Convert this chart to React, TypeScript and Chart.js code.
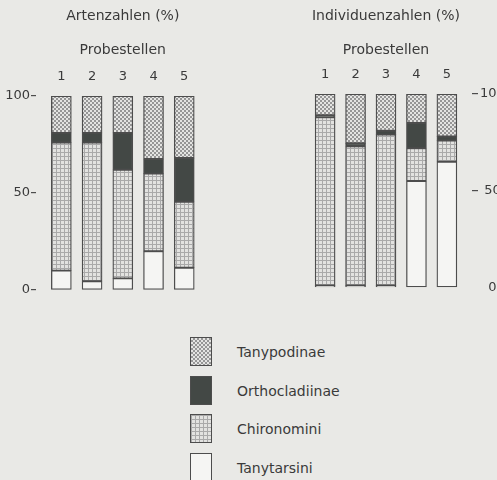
import React, { useEffect, useMemo, useRef } from "react";
import { Chart, registerables } from "chart.js";

Chart.register(...registerables);

// Probestellen (sampling sites)
const sites = [1, 2, 3, 4, 5];
const yTicks = [0, 50, 100];

// Artenzahlen (%) – share of species per subfamily/tribe
const artTanytarsini = [10, 4.5, 6, 20, 11.5];
const artChironomini = [66, 71.5, 56, 40, 34];
const artOrthocladiinae = [5, 5, 19, 7.5, 22.5];
const artTanypodinae = [19, 19, 19, 32.5, 32];

// Individuenzahlen (%) – share of individuals per subfamily/tribe
const indTanytarsini = [1, 1, 1, 55, 65];
const indChironomini = [87, 72, 78, 17, 11];
const indOrthocladiinae = [1, 1.5, 2, 13, 2];
const indTanypodinae = [11, 25.5, 19, 15, 22];

const FONT = '"DejaVu Sans", sans-serif';
const INK = "#3a3a3a";
const EDGE = "#4d4d4d";
const PAGE = "#e9e9e6";

type FillKind = "dots" | "grid" | "dark" | "white";

function makeTile(kind: FillKind): HTMLCanvasElement {
  const c = document.createElement("canvas");
  c.width = 4;
  c.height = 4;
  const g = c.getContext("2d")!;
  if (kind === "dots") {
    g.fillStyle = "#969696";
    g.fillRect(0, 0, 4, 4);
    g.fillStyle = "#e4e4e2";
    g.fillRect(0, 0, 2, 2);
    g.fillRect(2, 2, 2, 2);
  } else if (kind === "grid") {
    g.fillStyle = "#e2e2e0";
    g.fillRect(0, 0, 4, 4);
    g.fillStyle = "#a9a9a9";
    g.fillRect(0, 0, 4, 1);
    g.fillRect(0, 0, 1, 4);
  } else if (kind === "dark") {
    g.fillStyle = "#434845";
    g.fillRect(0, 0, 4, 4);
  } else {
    g.fillStyle = "#f5f5f3";
    g.fillRect(0, 0, 4, 4);
  }
  return c;
}

const legendItems: { label: string; kind: FillKind }[] = [
  { label: "Tanypodinae", kind: "dots" },
  { label: "Orthocladiinae", kind: "dark" },
  { label: "Chironomini", kind: "grid" },
  { label: "Tanytarsini", kind: "white" },
];

interface PanelSpec {
  title: string;
  tanytarsini: number[];
  chironomini: number[];
  orthocladiinae: number[];
  tanypodinae: number[];
  yPosition: "left" | "right";
  padLeft: number;
  padRight: number;
  padBottom: number;
  axisHeight: number;
  axisWidth: number;
}

function buildChart(canvas: HTMLCanvasElement, spec: PanelSpec) {
  const ctx = canvas.getContext("2d")!;
  const pat = (k: FillKind) => ctx.createPattern(makeTile(k), "repeat")!;
  const series = [
    { label: "Tanytarsini", values: spec.tanytarsini, fill: pat("white") },
    { label: "Chironomini", values: spec.chironomini, fill: pat("grid") },
    { label: "Orthocladiinae", values: spec.orthocladiinae, fill: pat("dark") },
    { label: "Tanypodinae", values: spec.tanypodinae, fill: pat("dots") },
  ];
  const isLeft = spec.yPosition === "left";
  return new Chart(canvas, {
    type: "bar",
    data: {
      datasets: series.map((s) => ({
        label: s.label,
        data: sites.map((x, i) => ({ x, y: s.values[i] })),
        backgroundColor: s.fill as any,
        borderColor: EDGE,
        borderWidth: 1.3,
        borderSkipped: false,
        barThickness: 20,
      })),
    },
    options: {
      responsive: false,
      animation: false,
      devicePixelRatio: 1,
      layout: {
        padding: { left: spec.padLeft, right: spec.padRight, top: 0, bottom: spec.padBottom },
      },
      plugins: {
        legend: { display: false },
        tooltip: { enabled: false },
        title: {
          display: true,
          text: spec.title,
          fullSize: false,
          color: INK,
          font: { family: FONT, size: 14, weight: "normal" },
          padding: { top: 8, bottom: 0 },
        },
      },
      scales: {
        x: {
          type: "linear",
          position: "top",
          stacked: true,
          min: 0.74,
          max: 5.26,
          afterBuildTicks: (s: any) => {
            s.ticks = sites.map((value) => ({ value }));
          },
          grid: { display: false, drawTicks: false },
          border: { display: false },
          ticks: {
            autoSkip: false,
            maxRotation: 0,
            padding: 12,
            color: INK,
            font: { family: FONT, size: 13 },
          },
          title: {
            display: true,
            text: "Probestellen",
            color: INK,
            font: { family: FONT, size: 14 },
            padding: { top: 17.5, bottom: 0 },
          },
          afterFit: (s: any) => {
            s.height = spec.axisHeight;
          },
        },
        y: {
          position: spec.yPosition,
          stacked: true,
          min: 0,
          max: 100,
          afterBuildTicks: (s: any) => {
            s.ticks = yTicks.map((value) => ({ value }));
          },
          grid: {
            drawOnChartArea: false,
            drawTicks: true,
            tickLength: isLeft ? 5 : 6,
            color: (c: any) =>
              !isLeft && c.tick && c.tick.value === 0 ? "rgba(0,0,0,0)" : EDGE,
            lineWidth: 1.2,
          },
          border: { display: false },
          ticks: {
            padding: isLeft ? 1 : 2,
            crossAlign: isLeft ? "near" : "center",
            color: INK,
            font: { family: FONT, size: 13 },
          },
          afterFit: (s: any) => {
            s.width = spec.axisWidth;
          },
        },
      },
    },
  });
}

export default function App() {
  const leftRef = useRef<HTMLCanvasElement>(null);
  const rightRef = useRef<HTMLCanvasElement>(null);

  const swatches = useMemo(() => {
    const out: Record<string, string> = {};
    legendItems.forEach((it) => {
      out[it.kind] = makeTile(it.kind).toDataURL();
    });
    return out;
  }, []);

  useEffect(() => {
    const left = buildChart(leftRef.current!, {
      title: "Artenzahlen (%)",
      tanytarsini: artTanytarsini,
      chironomini: artChironomini,
      orthocladiinae: artOrthocladiinae,
      tanypodinae: artTanypodinae,
      yPosition: "left",
      padLeft: 0,
      padRight: 40.4,
      padBottom: 10,
      axisHeight: 71.2,
      axisWidth: 36,
    });
    const right = buildChart(rightRef.current!, {
      title: "Individuenzahlen (%)",
      tanytarsini: indTanytarsini,
      chironomini: indChironomini,
      orthocladiinae: indOrthocladiinae,
      tanypodinae: indTanypodinae,
      yPosition: "right",
      padLeft: 50,
      padRight: 0,
      padBottom: 12.5,
      axisHeight: 69.2,
      axisWidth: 25,
    });
    return () => {
      left.destroy();
      right.destroy();
    };
  }, []);

  const legendTops = [337, 376, 414, 453];

  return (
    <div
      style={{
        position: "fixed",
        left: 0,
        top: 0,
        width: 497,
        height: 480,
        overflow: "hidden",
        background: PAGE,
      }}
    >
      <canvas ref={leftRef} width={250} height={300} style={{ position: "absolute", left: 0, top: 0 }} />
      <canvas ref={rightRef} width={247} height={300} style={{ position: "absolute", left: 250, top: 0 }} />
      {legendItems.map((it, i) => (
        <React.Fragment key={it.label}>
          <div
            style={{
              position: "absolute",
              left: 190,
              top: legendTops[i],
              width: 22,
              height: 29,
              boxSizing: "border-box",
              border: `1.3px solid ${EDGE}`,
              backgroundImage: `url(${swatches[it.kind]})`,
              backgroundRepeat: "repeat",
            }}
          />
          <div
            style={{
              position: "absolute",
              left: 237,
              top: legendTops[i] + 4,
              height: 22,
              lineHeight: "22px",
              fontFamily: FONT,
              fontSize: 14,
              color: INK,
              whiteSpace: "nowrap",
            }}
          >
            {it.label}
          </div>
        </React.Fragment>
      ))}
    </div>
  );
}
